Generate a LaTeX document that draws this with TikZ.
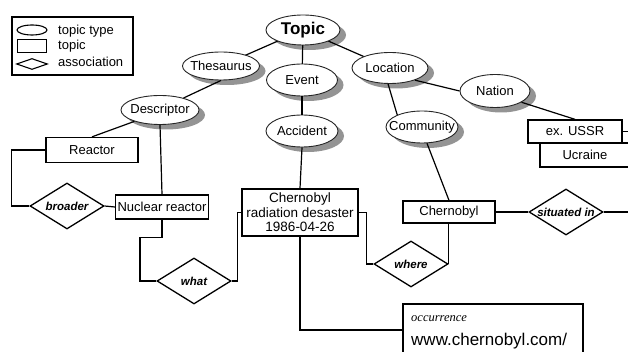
\documentclass[tikz,border=0pt]{standalone}
\usepackage{fontspec}
\setmainfont{Liberation Sans}
\newfontfamily\occfont{Liberation Serif}
\usetikzlibrary{shapes.geometric}
\begin{document}
\begin{tikzpicture}[x=1pt,y=-1pt,
  labelfont/.style={font=\fontsize{13}{14}\selectfont},
  link/.style={line width=1.2pt},
  shadowfill/.style={fill=black!42},
  topictype/.style={ellipse, draw=black!85, line width=0.9pt, fill=white,
    inner xsep=-8pt, inner ysep=0pt, labelfont},
  topicbox/.style={rectangle, draw, line width=1.3pt, fill=white, inner sep=0pt, labelfont},
  assoc/.style={diamond, draw, line width=1.3pt, fill=white, inner sep=0pt, aspect=1.6,
    minimum width=74pt, minimum height=46pt,
    font=\fontsize{11.5}{12}\selectfont\bfseries\itshape},
  legendshape/.style={draw, line width=1.1pt, inner sep=0pt, minimum width=30pt},
  legendtext/.style={anchor=west, inner sep=0pt, labelfont}]

% canvas
\useasboundingbox (0,0) rectangle (628,352);
\fill[white] (0,0) rectangle (628,352);

% legend
\draw[line width=1.2pt] (12,17) rectangle (133,75);
\node[legendshape, ellipse, minimum height=10pt] (lgtype) at (32,30) {};
\node[legendshape, rectangle, minimum height=13pt, minimum width=29pt] (lgtopic) at (32,46) {};
\node[legendshape, diamond, aspect=2.7, minimum height=11pt, minimum width=31pt] (lgassoc) at (32,64) {};
\node[legendtext] (lgtypetxt) at (58,31) {topic type};
\node[legendtext] (lgtopictxt) at (58,46) {topic};
\node[legendtext] (lgassoctxt) at (58,62) {association};

% shadows of the topic types (offset 6 right, 5 down)
\fill[shadowfill] (309,35) ellipse [x radius=37, y radius=15];
\fill[shadowfill] (227,71) ellipse [x radius=38.5, y radius=14];
\fill[shadowfill] (308,85) ellipse [x radius=35.5, y radius=16];
\fill[shadowfill] (396,73) ellipse [x radius=38, y radius=15.5];
\fill[shadowfill] (166,115) ellipse [x radius=39, y radius=14.5];
\fill[shadowfill] (308,136) ellipse [x radius=36, y radius=16];
\fill[shadowfill] (428,132) ellipse [x radius=36, y radius=16];
\fill[shadowfill] (501,96) ellipse [x radius=35, y radius=16.5];

% connectors between topic types (drawn under the ellipses)
\coordinate (c-topic) at (303,30);
\coordinate (c-thesaurus) at (221,66);
\coordinate (c-event) at (302,80);
\coordinate (c-location) at (390,68);
\draw[link] (c-topic) -- (c-thesaurus);
\draw[link] (c-topic) -- (c-event);
\draw[link] (c-topic) -- (c-location);

% topic types
\node[topictype, minimum width=74pt, minimum height=30pt, font=\fontsize{17}{18}\selectfont\bfseries] (topic) at (c-topic) {Topic};
\node[topictype, minimum width=77pt, minimum height=28pt] (thesaurus) at (c-thesaurus) {Thesaurus};
\node[topictype, minimum width=71pt, minimum height=32pt] (event) at (c-event) {Event};
\node[topictype, minimum width=76pt, minimum height=31pt] (location) at (c-location) {Location};
\node[topictype, minimum width=78pt, minimum height=29pt] (descriptor) at (160,110) {Descriptor};
\node[topictype, minimum width=72pt, minimum height=32pt] (accident) at (302,131) {Accident};
\node[topictype, minimum width=72pt, minimum height=32pt] (community) at (422,127) {Community};
\node[topictype, minimum width=70pt, minimum height=33pt] (nation) at (495,91) {Nation};

% topics
\node[topicbox, minimum width=92pt, minimum height=25pt] (reactor) at (92,150) {Reactor};
\node[topicbox, minimum width=93pt, minimum height=24pt] (nuclear) at (162,207) {Nuclear reactor};
\node[topicbox, minimum width=116pt, minimum height=47pt, align=center,
  font=\fontsize{13.5}{14.5}\selectfont] (disaster) at (300,212.5) {Chernobyl\\radiation desaster\\1986-04-26};
\node[topicbox, minimum width=92pt, minimum height=22pt] (chernobyl) at (449,212) {Chernobyl};
\node[topicbox, minimum width=90pt, minimum height=24pt] (ucraine) at (585,155) {Ucraine};
\node[topicbox, minimum width=94pt, minimum height=23pt] (ussr) at (575,131.5) {ex. USSR};

% associations
\node[assoc] (broader) at (67,206) {broader};
\node[assoc] (what) at (194,281) {what};
\node[assoc] (where) at (411,264) {where};
\node[assoc] (situated) at (566,212) {situated in};

% occurrence
\node[topicbox, minimum width=180pt, minimum height=52pt] (occ) at (493,330) {};
\node[anchor=base west, inner sep=0pt, font=\occfont\itshape\fontsize{12.5}{13}\selectfont] (occlabel) at (411,321) {occurrence};
\node[anchor=base west, inner sep=0pt, font=\fontsize{17}{18}\selectfont] (occurl) at (411,345) {www.chernobyl.com/};

% type hierarchy
\draw[link] (thesaurus.south) -- (descriptor.27);
\draw[link] (event) -- (accident);
\draw[link] (location.-97) -- (community.154);
\draw[link] (location.-26) -- (nation.west);

% instances of types
\draw[link] (descriptor.204) -- (reactor.north);
\draw[link] (descriptor.south) -- (nuclear.north);
\draw[link] (accident.south) -- (disaster.north);
\draw[link] (community.-73) -- (chernobyl.north);
\draw[link] (nation.-23) -- (ussr.north);

% associations
\draw[link] (reactor.west) -- ++(-34,0) |- (broader.west);
\draw[link] (broader.east) -- (nuclear.west);
\draw[link] (nuclear.south) |- ++(-22,18) |- (what.west);
\draw[link] (what.east) -- ++(6,0) |- (disaster.west);
\draw[link] (disaster.east) -- ++(8,0) |- (where.west);
\draw[link] (where.east) -- (where.east |- chernobyl.south);
\draw[link] (chernobyl.east) -- (situated.west);
\draw[link] (situated.east) -- ++(30,0);
\draw[link] (ussr.east) -- ++(10,0);
\draw[link] (disaster.south) |- (occ.west);
\end{tikzpicture}
\end{document}
